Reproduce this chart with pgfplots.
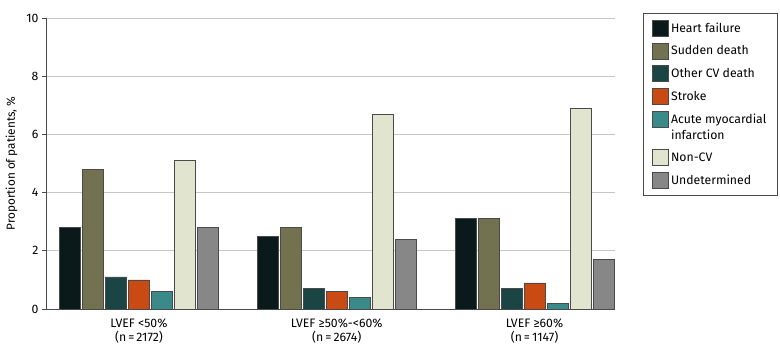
\documentclass[border=0pt]{standalone}
\usepackage{pgfplots}
\pgfplotsset{compat=1.18}
\usepackage{fontspec}
\setmainfont{Fira Sans}
\definecolor{cHF}{HTML}{0A1919}
\definecolor{cSD}{HTML}{737250}
\definecolor{cOCV}{HTML}{1B4545}
\definecolor{cST}{HTML}{C94A12}
\definecolor{cAMI}{HTML}{3A8A8A}
\definecolor{cNCV}{HTML}{E1E4CF}
\definecolor{cUN}{HTML}{878787}
\definecolor{edge}{HTML}{4A4A4A}
\begin{document}
\begin{tikzpicture}
\begin{axis}[
  scale only axis,
  width=569bp, height=291bp,
  ybar=2bp, bar width=21bp,
  xmin=-0.47, xmax=2.407,
  ymin=0, ymax=10,
  ytick={0,2,4,6,8,10},
  xtick={0,1,2},
  xticklabels={{LVEF <50\%\\(n\,=\,2172)},{LVEF ≥50\%-<60\%\\(n\,=\,2674)},{LVEF ≥60\%\\(n\,=\,1147)}},
  xticklabel style={align=center, font=\fontsize{12.3}{14.5}\selectfont, yshift=-2bp},
  yticklabel style={font=\fontsize{12.3}{14}\selectfont},
  /pgf/number format/assume math mode=true,
  axis x line*=bottom, axis y line*=left,
  axis line style={draw=edge, line width=0.8pt},
  x axis line style={-}, y axis line style={-},
  major x tick style={draw=none},
  major y tick style={draw=edge, line width=0.8pt},
  tick align=outside, major tick length=4bp,
  ymajorgrids, major grid style={draw=black!22, line width=0.9pt},
  ylabel={Proportion of patients, \%},
  ylabel style={font=\fontsize{11.8}{14}\selectfont},
  ylabel shift=2bp,
  every axis plot/.append style={draw=edge, line width=0.6pt},
  legend style={at={(rel axis cs:1.049,1.017)}, anchor=north west,
    draw=edge, line width=0.6pt, font=\fontsize{12.3}{16}\selectfont,
    nodes={align=left, inner sep=2.3bp}, row sep=6.2bp,
    inner xsep=9bp, inner ysep=6.5bp},
  legend cell align=left,
  legend image code/.code={\draw[#1, line width=0.6pt] (0bp,-8bp) rectangle (16bp,8bp);},
]
\addplot[fill=cHF] coordinates {(0,2.8) (1,2.5) (2,3.1)};
\addplot[fill=cSD] coordinates {(0,4.8) (1,2.8) (2,3.1)};
\addplot[fill=cOCV] coordinates {(0,1.1) (1,0.7) (2,0.7)};
\addplot[fill=cST] coordinates {(0,1.0) (1,0.6) (2,0.9)};
\addplot[fill=cAMI, legend image post style={yshift=8bp}] coordinates {(0,0.6) (1,0.4) (2,0.2)};
\addplot[fill=cNCV] coordinates {(0,5.1) (1,6.7) (2,6.9)};
\addplot[fill=cUN] coordinates {(0,2.8) (1,2.4) (2,1.7)};
\legend{Heart failure, Sudden death, Other CV death, Stroke, {Acute myocardial\\infarction}, Non-CV, Undetermined}
\end{axis}
\pgfresetboundingbox
\path[use as bounding box] ([xshift=-46bp,yshift=-48bp]current axis.south west) rectangle ([xshift=734bp,yshift=309bp]current axis.south west);
\end{tikzpicture}
\end{document}
